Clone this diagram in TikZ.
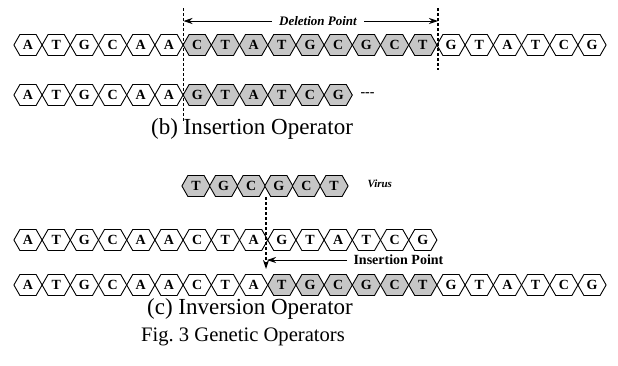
\documentclass[tikz,border=0pt]{standalone}
\usepackage{fontspec}
\setmainfont{Liberation Serif}
\usetikzlibrary{arrows.meta}
\begin{document}
\begin{tikzpicture}[x=1pt,y=-1pt,
 hexline/.style={draw, line width=0.9pt, line join=miter},
 base/.style={inner sep=0pt, font=\fontsize{14}{14}\selectfont\bfseries},
 cutline/.style={line width=1.3pt, dash pattern=on 3pt off 2pt},
 arr/.style={line width=0.9pt, -{Stealth[length=9pt,width=6pt]}},
 lab/.style={font=\fontsize{13}{13}\selectfont\bfseries\itshape},
 blab/.style={font=\fontsize{14}{14}\selectfont\bfseries},
 captext/.style={font=\fontsize{23}{23}\selectfont}]
\useasboundingbox (0,0) rectangle (618,365);
\newcommand\hexat[3]{% x, y, fill
  \filldraw[hexline, fill=#3] ({#1-14.1},#2) -- ({#1-8.1},{#2-10.5}) -- ({#1+8.1},{#2-10.5})
    -- ({#1+14.1},#2) -- ({#1+8.1},{#2+10.5}) -- ({#1-8.1},{#2+10.5}) -- cycle;}
% row 1
\foreach \l [count=\i] in {A,T,G,C,A,A,C,T,A,T,G,C,G,C,T,G,T,A,T,C,G} {
  \def\fc{white}\ifnum\i>6 \ifnum\i<16 \def\fc{gray!45}\fi\fi
  \pgfmathsetmacro\xx{28+(\i-1)*28.2}
  \hexat{\xx}{45}{\fc}
  \node[base] (a\i) at (\xx,45) {\l};
}
% row 2
\foreach \l [count=\i] in {A,T,G,C,A,A,G,T,A,T,C,G} {
  \def\fc{white}\ifnum\i>6 \def\fc{gray!45}\fi
  \pgfmathsetmacro\xx{28+(\i-1)*28.2}
  \hexat{\xx}{95}{\fc}
  \node[base] (b\i) at (\xx,95) {\l};
}
\node[blab, anchor=west] (dash) at (357,95) {-{}-{}-};
% virus
\foreach \l [count=\i] in {T,G,C,G,C,T} {
  \pgfmathsetmacro\xx{196+(\i-1)*27.6}
  \hexat{\xx}{186}{gray!45}
  \node[base] (v\i) at (\xx,186) {\l};
}
\node[font=\fontsize{11}{11}\selectfont\bfseries\itshape, anchor=west] (virus) at (364,184) {Virus};
% row 3
\foreach \l [count=\i] in {A,T,G,C,A,A,C,T,A,G,T,A,T,C,G} {
  \pgfmathsetmacro\xx{28+(\i-1)*28.2}
  \hexat{\xx}{240}{white}
  \node[base] (c\i) at (\xx,240) {\l};
}
% row 4
\foreach \l [count=\i] in {A,T,G,C,A,A,C,T,A,T,G,C,G,C,T,G,T,A,T,C,G} {
  \def\fc{white}\ifnum\i>9 \ifnum\i<16 \def\fc{gray!45}\fi\fi
  \pgfmathsetmacro\xx{28+(\i-1)*28.2}
  \hexat{\xx}{285}{\fc}
  \node[base] (d\i) at (\xx,285) {\l};
}
% deletion marks
\coordinate (dt1) at (183.5,8); \coordinate (db1) at (183.5,123);
\coordinate (dt2) at (438,8);   \coordinate (db2) at (438,70);
\draw[cutline] (dt1) -- (db1);
\draw[cutline] (dt2) -- (db2);
\node[lab] (del) at (318,21) {Deletion Point};
\coordinate (dl) at (183.5,21); \coordinate (dr) at (438,21);
\draw[arr] ([xshift=-4pt]del.west) -- (dl);
\draw[arr] ([xshift=4pt]del.east) -- (dr);
% insertion marks
\coordinate (vt) at (266,197); \coordinate (vb) at (266,269);
\draw[cutline, -{Stealth[length=9pt,width=6pt]}] (vt) -- (vb);
\node[blab, anchor=west] (ins) at (350,260) {Insertion Point};
\coordinate (ip) at (267,260);
\draw[arr] ([xshift=-3pt]ins.west) -- (ip);
% captions
\node[captext] (capb) at (252,129) {(b) Insertion Operator};
\node[captext] (capc) at (250,309) {(c) Inversion Operator};
\node[font=\fontsize{20.6}{20.6}\selectfont] (fig) at (243,337) {Fig.\ 3 Genetic Operators};
\end{tikzpicture}
\end{document}
